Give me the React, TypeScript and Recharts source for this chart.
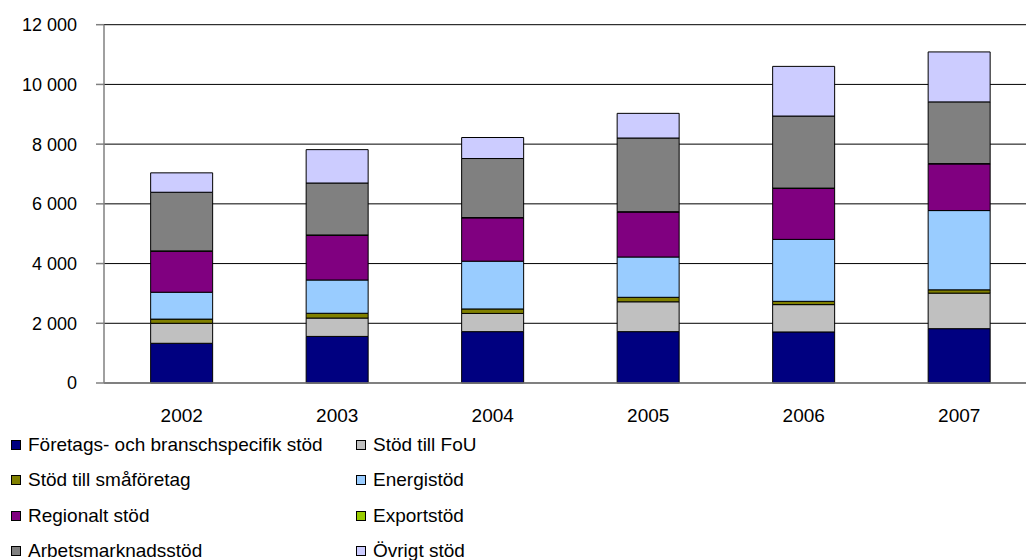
import React from "react";
import { BarChart, Bar, XAxis, YAxis, CartesianGrid } from "recharts";

const years = ["2002", "2003", "2004", "2005", "2006", "2007"];

const foretag = [1330, 1560, 1720, 1720, 1710, 1820];
const fou = [670, 615, 610, 1000, 915, 1190];
const smaforetag = [140, 160, 150, 150, 110, 110];
const energi = [900, 1115, 1600, 1350, 2075, 2655];
const regionalt = [1373, 1496, 1451, 1507, 1708, 1563];
const export_ = [12, 12, 10, 10, 10, 10];
const arbetsmarknad = [1964, 1740, 1977, 2468, 2413, 2067];
const ovrigt = [649, 1118, 704, 826, 1663, 1673];

const yTicks = [0, 2000, 4000, 6000, 8000, 10000, 12000];
const boundaryTicks = [0, 1, 2, 3, 4, 5, 6];

const series = [
  { key: "foretag", name: "Företags- och branschspecifik stöd", color: "#000080", values: foretag },
  { key: "fou", name: "Stöd till FoU", color: "#C0C0C0", values: fou },
  { key: "smaforetag", name: "Stöd till småföretag", color: "#808000", values: smaforetag },
  { key: "energi", name: "Energistöd", color: "#99CCFF", values: energi },
  { key: "regionalt", name: "Regionalt stöd", color: "#800080", values: regionalt },
  { key: "export", name: "Exportstöd", color: "#99CC00", values: export_ },
  { key: "arbetsmarknad", name: "Arbetsmarknadsstöd", color: "#808080", values: arbetsmarknad },
  { key: "ovrigt", name: "Övrigt stöd", color: "#CCCCFF", values: ovrigt },
];

const data = years.map((y, i) => {
  const row: Record<string, number | string> = { year: y, idx: i + 0.5 };
  series.forEach((s) => {
    row[s.key] = s.values[i];
  });
  return row;
});

const FONT = "'Liberation Sans', Arial, sans-serif";

const fmt = (v: number) => {
  const s = String(v);
  return s.replace(/\B(?=(\d{3})+(?!\d))/g, " ");
};

export default function App() {
  return (
    <div
      style={{
        position: "absolute",
        left: 0,
        top: 0,
        width: 1026,
        height: 560,
        overflow: "hidden",
        background: "#fff",
        fontFamily: FONT,
      }}
    >
      <BarChart
        width={1100}
        height={560}
        data={data}
        margin={{ top: 24.7, right: 63, bottom: 147, left: 0 }}
        barCategoryGap="30%"
      >
        <CartesianGrid vertical={false} stroke="#000" strokeWidth={1} />
        <XAxis
          xAxisId="b"
          type="number"
          dataKey="idx"
          domain={[0, 6]}
          ticks={boundaryTicks}
          tick={false}
          tickLine={{ stroke: "#808080", strokeWidth: 1.5 }}
          axisLine={false}
          tickSize={7}
          height={0}
          allowDataOverflow
        />
        <XAxis
          dataKey="year"
          tickLine={false}
          tickSize={0}
          tickMargin={26}
          height={30}
          axisLine={{ stroke: "#808080", strokeWidth: 1.5 }}
          tick={{ fill: "#000", fontSize: 19, fontFamily: FONT }}
          interval={0}
        />
        <YAxis
          width={104}
          domain={[0, 12000]}
          ticks={yTicks}
          tickFormatter={fmt}
          tickSize={8}
          tickMargin={19}
          axisLine={{ stroke: "#808080", strokeWidth: 1.5 }}
          tickLine={{ stroke: "#808080", strokeWidth: 1.5 }}
          tick={{ fill: "#000", fontSize: 18, fontFamily: FONT }}
          interval={0}
        />
        {series.map((s) => (
          <Bar
            key={s.key}
            dataKey={s.key}
            name={s.name}
            stackId="a"
            fill={s.color}
            stroke="#000"
            strokeWidth={1}
            isAnimationActive={false}
          />
        ))}
      </BarChart>
      <div
        style={{
          position: "absolute",
          left: 0,
          top: 427,
          width: 1026,
          display: "grid",
          gridTemplateColumns: "345px 345px",
          gridAutoRows: "35.5px",
          fontSize: 19,
          lineHeight: "22px",
          color: "#000",
          fontFamily: FONT,
        }}
      >
        {series.map((s) => (
          <div
            key={s.key}
            style={{ display: "flex", alignItems: "center", paddingLeft: 11, whiteSpace: "nowrap" }}
          >
            <span
              style={{
                display: "inline-block",
                width: 8,
                height: 8,
                background: s.color,
                border: "1px solid #000",
                marginRight: 7,
              }}
            />
            <span>{s.name}</span>
          </div>
        ))}
      </div>
    </div>
  );
}
